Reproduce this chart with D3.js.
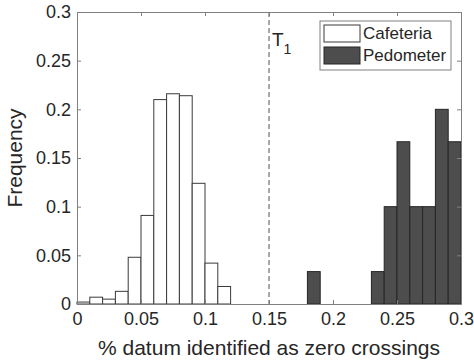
<!DOCTYPE html>
<html>
<head>
<meta charset="utf-8">
<script src="https://cdn.jsdelivr.net/npm/d3@7"></script>
<style>
  body { margin: 0; background: #fff; }
  text { font-family: Arial, "Liberation Sans", sans-serif; fill: #262626; }
</style>
</head>
<body>
<div id="chart"></div>
<script>
// histogram bins (left edge) and frequencies
const cafeteriaBins = [0, 0.01, 0.02, 0.03, 0.04, 0.05, 0.06, 0.07, 0.08, 0.09, 0.10, 0.11];
const cafeteriaFreq = [0.002, 0.007, 0.005, 0.013, 0.048, 0.091, 0.210, 0.216, 0.214, 0.124, 0.042, 0.018];
const pedometerBins = [0.18, 0.23, 0.24, 0.25, 0.26, 0.27, 0.28, 0.29];
const pedometerFreq = [0.0333, 0.0333, 0.1, 0.1667, 0.1, 0.1, 0.2, 0.1667];
const binWidth = 0.01;
const xTicks = [0, 0.05, 0.1, 0.15, 0.2, 0.25, 0.3];
const yTicks = [0, 0.05, 0.1, 0.15, 0.2, 0.25, 0.3];
const threshold = 0.15;
const seriesNames = ["Cafeteria", "Pedometer"];

const width = 474, height = 364;
const margin = {top: 12, right: 13, bottom: 60, left: 77};

const svg = d3.select("#chart").append("svg")
  .attr("width", width)
  .attr("height", height);

const x = d3.scaleLinear().domain([0, 0.3]).range([margin.left, width - margin.right]);
const y = d3.scaleLinear().domain([0, 0.3]).range([height - margin.bottom, margin.top]);

const axisColor = "#808080";
const fmt = d => d === 0 ? "0" : String(+d.toFixed(2));

// bars
const caf = cafeteriaBins.map((b, i) => ({x0: b, v: cafeteriaFreq[i]}));
const ped = pedometerBins.map((b, i) => ({x0: b, v: pedometerFreq[i]}));

svg.append("g").selectAll("rect").data(caf).join("rect")
  .attr("x", d => x(d.x0))
  .attr("y", d => y(d.v))
  .attr("width", d => x(d.x0 + binWidth) - x(d.x0))
  .attr("height", d => y(0) - y(d.v))
  .attr("fill", "#fff")
  .attr("stroke", "#3a3a3a")
  .attr("stroke-width", 1);

svg.append("g").selectAll("rect").data(ped).join("rect")
  .attr("x", d => x(d.x0))
  .attr("y", d => y(d.v))
  .attr("width", d => x(d.x0 + binWidth) - x(d.x0))
  .attr("height", d => y(0) - y(d.v))
  .attr("fill", "#4d4d4d")
  .attr("stroke", "#262626")
  .attr("stroke-width", 1);

// threshold line
svg.append("line")
  .attr("x1", x(threshold)).attr("x2", x(threshold))
  .attr("y1", y(0.3)).attr("y2", y(0))
  .attr("stroke", "#555")
  .attr("stroke-width", 1)
  .attr("stroke-dasharray", "5,3");

const tl = svg.append("text")
  .attr("x", x(threshold) + 3)
  .attr("y", 46)
  .style("font-size", "19px");
tl.append("tspan").text("T");
tl.append("tspan").attr("dy", 8).style("font-size", "14px").text("1");

// axes
const tickLen = 4;
const xAxis = d3.axisBottom(x).tickValues(xTicks).tickFormat(fmt).tickSizeInner(-tickLen).tickSizeOuter(0).tickPadding(8);
const yAxis = d3.axisLeft(y).tickValues(yTicks).tickFormat(fmt).tickSizeInner(-tickLen).tickSizeOuter(0).tickPadding(6);

const gx = svg.append("g").attr("transform", `translate(0,${y(0)})`).call(xAxis);
const gy = svg.append("g").attr("transform", `translate(${x(0)},0)`).call(yAxis);
const gxTop = svg.append("g").attr("transform", `translate(0,${y(0.3)})`)
  .call(d3.axisTop(x).tickValues(xTicks).tickFormat("").tickSizeInner(-tickLen).tickSizeOuter(0));
const gyRight = svg.append("g").attr("transform", `translate(${x(0.3)},0)`)
  .call(d3.axisRight(y).tickValues(yTicks).tickFormat("").tickSizeInner(-tickLen).tickSizeOuter(0));

[gx, gy, gxTop, gyRight].forEach(g => {
  g.selectAll(".domain").attr("stroke", axisColor);
  g.selectAll(".tick line").attr("stroke", axisColor);
  g.selectAll(".tick text").style("font-size", "18px").style("font-family", "Arial, 'Liberation Sans', sans-serif").attr("fill", "#262626");
});

// axis labels
svg.append("text")
  .attr("x", (x(0) + x(0.3)) / 2)
  .attr("y", 355)
  .attr("text-anchor", "middle")
  .style("font-size", "21px")
  .text("% datum identified as zero crossings");

svg.append("text")
  .attr("transform", `translate(22,${(y(0) + y(0.3)) / 2}) rotate(-90)`)
  .attr("text-anchor", "middle")
  .style("font-size", "21px")
  .text("Frequency");

// legend
const lg = svg.append("g");
lg.append("rect")
  .attr("x", 320).attr("y", 21).attr("width", 131).attr("height", 49)
  .attr("fill", "#fff").attr("stroke", axisColor);
const swFill = ["#fff", "#4d4d4d"];
const swStroke = ["#3a3a3a", "#262626"];
seriesNames.forEach((name, i) => {
  lg.append("rect")
    .attr("x", 324).attr("y", 25 + i * 22).attr("width", 36).attr("height", 17)
    .attr("fill", swFill[i]).attr("stroke", swStroke[i]);
  lg.append("text")
    .attr("x", 363).attr("y", 39 + i * 22)
    .style("font-size", "17px")
    .text(name);
});
</script>
</body>
</html>
